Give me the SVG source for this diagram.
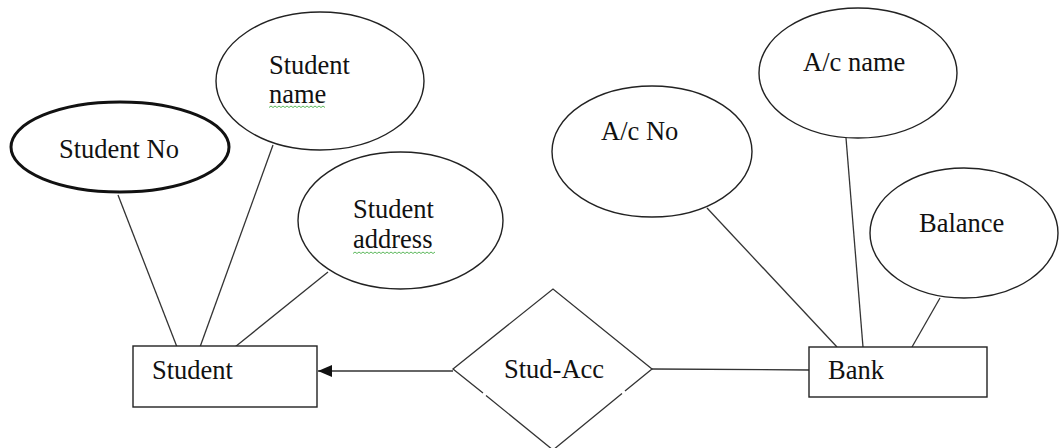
<svg xmlns="http://www.w3.org/2000/svg" width="1059" height="448" viewBox="0 0 1059 448">
<style>
.shape{fill:#fff;stroke:#222;stroke-width:1.4}
.key{fill:#fff;stroke:#111;stroke-width:3}
.conn{fill:none;stroke:#333;stroke-width:1.3}
.lbl{font-family:"Liberation Serif","Times New Roman",serif;font-size:26.5px;fill:#111}
.sq{fill:none;stroke:#5cb85c;stroke-width:1}
</style>
<defs>
<marker id="arr" markerWidth="14" markerHeight="12" refX="14" refY="6" orient="auto" markerUnits="userSpaceOnUse">
<path d="M0,0 L14,6 L0,12 Z" fill="#111"/>
</marker>
</defs>
<rect width="1059" height="448" fill="#fff"/>
<g id="connectors">
<line class="conn" x1="118" y1="195" x2="177" y2="347"/>
<line class="conn" x1="273" y1="145" x2="200" y2="347"/>
<line class="conn" x1="328" y1="272" x2="235" y2="347"/>
<line class="conn" x1="707" y1="208" x2="837" y2="347"/>
<line class="conn" x1="846" y1="138" x2="863" y2="347"/>
<line class="conn" x1="940" y1="298" x2="912" y2="347"/>
<line class="conn" x1="652" y1="369" x2="809" y2="370"/>
<line class="conn" x1="453" y1="371" x2="318" y2="371" stroke-width="1.6" marker-end="url(#arr)"/>
</g>
<g id="student-no">
<ellipse class="key" cx="120" cy="147" rx="109" ry="45"/>
<text class="lbl" x="59" y="158">Student No</text>
</g>
<g id="student-name">
<ellipse class="shape" cx="320" cy="81" rx="104" ry="69"/>
<text class="lbl" x="269" y="74">Student</text>
<text class="lbl" x="269" y="103">name</text>
<path class="sq" d="M269,107.5 l2,-1.5 l2,1.5 l2,-1.5 l2,1.5 l2,-1.5 l2,1.5 l2,-1.5 l2,1.5 l2,-1.5 l2,1.5 l2,-1.5 l2,1.5 l2,-1.5 l2,1.5 l2,-1.5 l2,1.5 l2,-1.5 l2,1.5 l2,-1.5 l2,1.5 l2,-1.5 l2,1.5 l2,-1.5 l2,1.5 l2,-1.5 l2,1.5 l2,-1.5 l2,1.5"/>
</g>
<g id="student-address">
<ellipse class="shape" cx="400.5" cy="220.5" rx="102.5" ry="68.5"/>
<text class="lbl" x="353" y="218">Student</text>
<text class="lbl" x="353" y="248">address</text>
<path class="sq" d="M353,253.5 l2,-1.5 l2,1.5 l2,-1.5 l2,1.5 l2,-1.5 l2,1.5 l2,-1.5 l2,1.5 l2,-1.5 l2,1.5 l2,-1.5 l2,1.5 l2,-1.5 l2,1.5 l2,-1.5 l2,1.5 l2,-1.5 l2,1.5 l2,-1.5 l2,1.5 l2,-1.5 l2,1.5 l2,-1.5 l2,1.5 l2,-1.5 l2,1.5 l2,-1.5 l2,1.5 l2,-1.5 l2,1.5 l2,-1.5 l2,1.5 l2,-1.5 l2,1.5 l2,-1.5 l2,1.5 l2,-1.5 l2,1.5 l2,-1.5 l2,1.5 l2,-1.5"/>
</g>
<g id="student">
<rect class="shape" x="133" y="346" width="184" height="61"/>
<text class="lbl" x="152" y="379">Student</text>
</g>
<g id="stud-acc">
<path class="conn" d="M483,393 L453,369 L553,289 L652,369 L625,391 M622,393.5 L553,450 M486,395.5 L553,450" stroke="#333" stroke-width="1.4"/>
<text class="lbl" x="504" y="378">Stud-Acc</text>
</g>
<g id="ac-no">
<ellipse class="shape" cx="652" cy="151.5" rx="100" ry="65.5"/>
<text class="lbl" x="601" y="140">A/c No</text>
</g>
<g id="ac-name">
<ellipse class="shape" cx="858" cy="73" rx="99" ry="65"/>
<text class="lbl" x="803" y="71">A/c name</text>
</g>
<g id="balance">
<ellipse class="shape" cx="964" cy="233" rx="94" ry="65"/>
<text class="lbl" x="919" y="232">Balance</text>
</g>
<g id="bank">
<rect class="shape" x="809" y="347" width="178" height="50"/>
<text class="lbl" x="828" y="379">Bank</text>
</g>
</svg>
